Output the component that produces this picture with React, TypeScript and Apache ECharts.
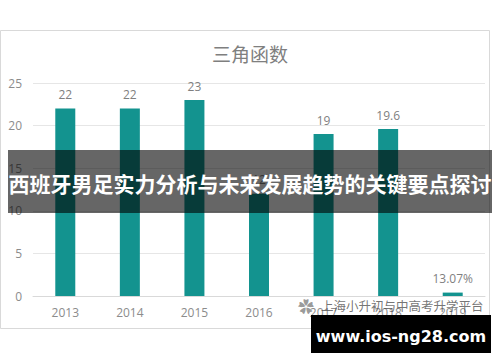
import React, { useEffect, useRef } from "react";
import * as echarts from "echarts";

const categories = ["2013", "2014", "2015", "2016", "2017", "2018", "2019"];
const values = [22, 22, 23, 12, 19, 19.6, 0.4];
const valueLabels = ["22", "22", "23", "12", "19", "19.6", "13.07%"];
const yTicks = { min: 0, max: 25, interval: 5 };
const chartTitle = "三角函数";
const bannerText = "西班牙男足实力分析与未来发展趋势的关键要点探讨";
const sourceText = "上海小升初与中高考升学平台";
const siteText = "www.ios-ng28.com";

const CJK = '"Noto Sans CJK SC", "Noto Sans", sans-serif';

export default function App() {
  const ref = useRef<HTMLDivElement>(null);
  useEffect(() => {
    if (!ref.current) return;
    const chart = echarts.init(ref.current, null, { renderer: "svg" });
    chart.setOption({
      animation: false,
      backgroundColor: "#ffffff",
      grid: { left: 33, right: 15, top: 83, bottom: 66 },
      xAxis: {
        type: "category",
        data: categories,
        axisTick: { show: false },
        axisLine: { lineStyle: { color: "#d9d9d9" } },
        axisLabel: { color: "#8c8c8c", fontSize: 12, margin: 10, fontFamily: '"Open Sans", sans-serif' },
      },
      yAxis: {
        type: "value",
        min: yTicks.min,
        max: yTicks.max,
        interval: yTicks.interval,
        axisLine: { show: false },
        axisTick: { show: false },
        splitLine: { lineStyle: { color: "#e6e6e6" } },
        axisLabel: { color: "#8c8c8c", fontSize: 12, margin: 11, fontFamily: '"Open Sans", sans-serif' },
      },
      series: [
        {
          type: "bar",
          data: values,
          barWidth: 20,
          itemStyle: { color: "#13938f" },
          label: {
            show: true,
            position: "top",
            distance: 8,
            color: "#7f7f7f",
            fontSize: 12,
            fontFamily: '"Open Sans", sans-serif',
            formatter: (p: any) => valueLabels[p.dataIndex],
          },
        },
      ],
      graphic: [
        {
          type: "rect",
          shape: { x: 0.5, y: 30.5, width: 489, height: 298 },
          style: { fill: "none", stroke: "#d9d9d9", lineWidth: 1 },
          z: 1,
        },
        {
          type: "text",
          x: 250,
          y: 53,
          style: {
            text: chartTitle,
            fill: "#7f7f7f",
            font: `19px ${CJK}`,
            textAlign: "center",
            textVerticalAlign: "middle",
          },
          z: 10,
        },
        {
          type: "text",
          x: 298,
          y: 306,
          style: {
            text: "✿",
            fill: "rgba(110,110,110,0.7)",
            font: `16px ${CJK}`,
            textAlign: "left",
            textVerticalAlign: "middle",
          },
          z: 20,
        },
        {
          type: "text",
          x: 321,
          y: 305,
          style: {
            text: sourceText,
            fill: "rgba(80,80,80,0.8)",
            font: `12.5px ${CJK}`,
            textAlign: "left",
            textVerticalAlign: "middle",
          },
          z: 20,
        },
        {
          type: "rect",
          shape: { x: 8, y: 150, width: 484, height: 63 },
          style: { fill: "rgba(0,0,0,0.6)" },
          z: 50,
        },
        {
          type: "text",
          x: 250,
          y: 183,
          style: {
            text: bannerText,
            fill: "#ffffff",
            font: `bold 21px ${CJK}`,
            textAlign: "center",
            textVerticalAlign: "middle",
          },
          z: 51,
        },
        {
          type: "rect",
          shape: { x: 311, y: 315, width: 180, height: 38 },
          style: { fill: "#000000" },
          z: 50,
        },
        {
          type: "text",
          x: 401,
          y: 336,
          style: {
            text: siteText,
            fill: "#ffffff",
            font: 'bold 16px "DejaVu Sans", sans-serif',
            textAlign: "center",
            textVerticalAlign: "middle",
          },
          z: 51,
        },
      ],
    });
    return () => chart.dispose();
  }, []);
  return (
    <div
      ref={ref}
      style={{ position: "fixed", left: 0, top: 0, width: 500, height: 362 }}
    />
  );
}
